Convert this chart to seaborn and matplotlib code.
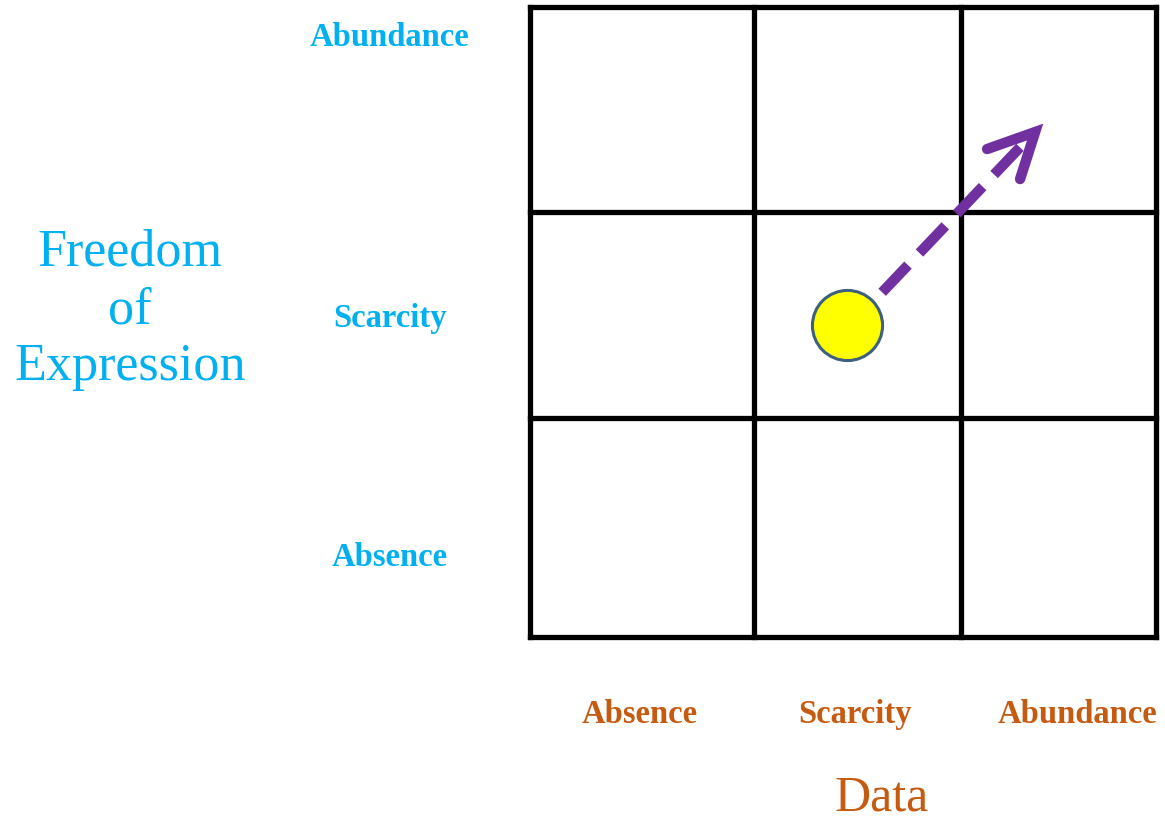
import numpy as np
import pandas as pd
import matplotlib
matplotlib.use('Agg')
import matplotlib.pyplot as plt
import seaborn as sns

sns.set_theme(style='white')
plt.rcParams['font.family'] = ['Liberation Serif', 'DejaVu Serif']

# categories on both axes
levels = ['Absence', 'Scarcity', 'Abundance']
x_title = 'Data'
y_title_lines = ['Freedom', 'of', 'Expression']

# current position of the ball and the cell it is heading to
current = {'data': 'Scarcity', 'freedom': 'Scarcity'}
target = {'data': 'Abundance', 'freedom': 'Abundance'}

# layout: grid edges in pixels (figure is drawn in pixel space)
col_edges = [530, 754, 961, 1156]
row_edges = [637, 418, 212, 7]       # bottom -> top
x_label_pos = [640, 855, 1077]
y_label_pos = [557, 318, 38]
y_title_pos = [252, 310, 367]

CYAN = '#00B0F0'
ORANGE = '#C55A11'
PURPLE = '#7030A0'

fig = plt.figure(figsize=(11.65, 8.22), dpi=100)
ax = fig.add_axes([0, 0, 1, 1])

# grid
lw = 3.8
for x in col_edges:
    ax.plot([x, x], [row_edges[-1], row_edges[0]], color='black', lw=lw,
            solid_capstyle='projecting')
for y in row_edges:
    ax.plot([col_edges[0], col_edges[-1]], [y, y], color='black', lw=lw,
            solid_capstyle='projecting')

# axis category labels
for lab, x in zip(levels, x_label_pos):
    ax.text(x, 714, lab, ha='center', va='center', fontsize=23.5,
            fontweight='bold', color=ORANGE)
for lab, y in zip(levels, y_label_pos):
    ax.text(390, y, lab, ha='center', va='center', fontsize=23.5,
            fontweight='bold', color=CYAN)

ax.text(882, 810, x_title, ha='center', va='baseline', fontsize=36,
        color=ORANGE)
for line, y in zip(y_title_lines, y_title_pos):
    ax.text(130, y, line, ha='center', va='center', fontsize=37.5, color=CYAN)

# ball in its cell
ci = levels.index(current['data'])
ri = levels.index(current['freedom'])
bx = col_edges[ci] + 0.45 * (col_edges[ci + 1] - col_edges[ci])
by = row_edges[ri] + 0.45 * (row_edges[ri + 1] - row_edges[ri])
ball = pd.DataFrame({'x': [bx], 'y': [by]})
sns.scatterplot(data=ball, x='x', y='y', ax=ax, s=2550, color='#FFFF00',
                edgecolor='#3d5f80', linewidth=2.2, zorder=5, legend=False)

# dashed arrow toward the target cell
ti = levels.index(target['data'])
tj = levels.index(target['freedom'])
tx = col_edges[ti] + 0.38 * (col_edges[ti + 1] - col_edges[ti])
ty = row_edges[tj] + 0.39 * (row_edges[tj + 1] - row_edges[tj])
sx, sy = bx + 35, by - 33
ax.plot([sx, tx - 12], [sy, ty + 12], color=PURPLE, lw=7.5,
        dashes=(3.6, 1.6), solid_capstyle='butt', zorder=4)
ax.plot([tx - 48, tx, tx - 15], [ty + 17, ty, ty + 47], color=PURPLE,
        lw=7.5, solid_capstyle='round', solid_joinstyle='miter', zorder=4)

ax.set_xlim(0, 1165)
ax.set_ylim(822, 0)
ax.axis('off')

fig.savefig('out.png', dpi=100)
